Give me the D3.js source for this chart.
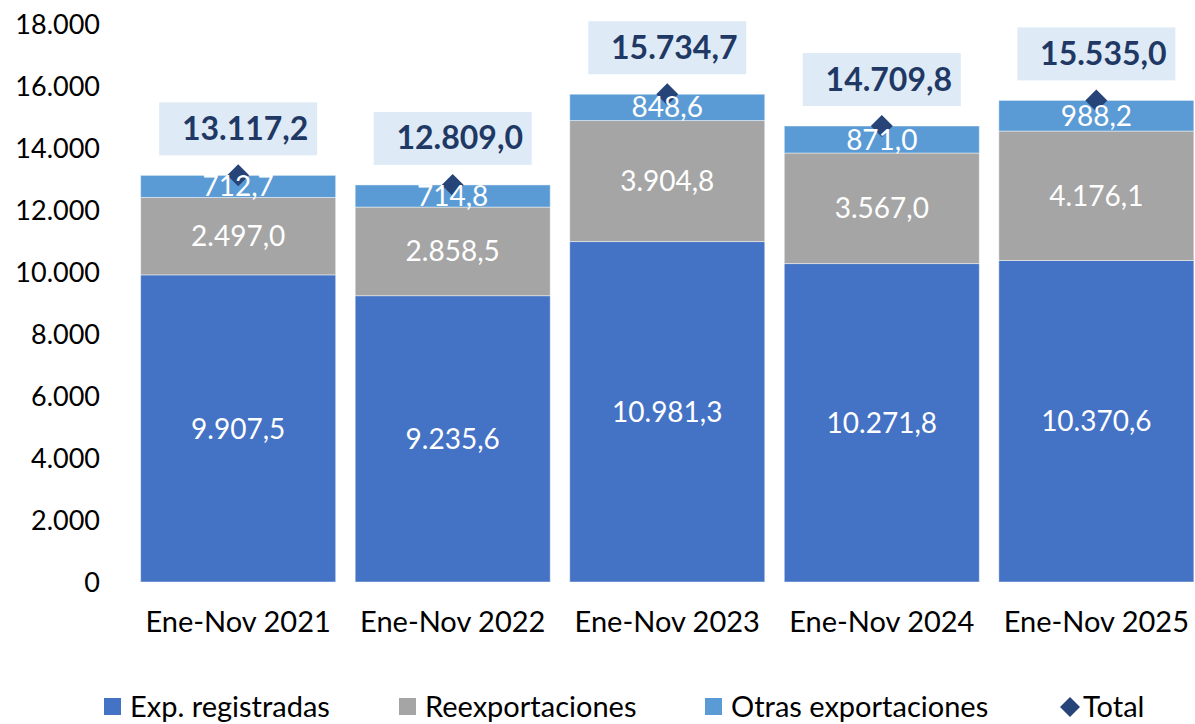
<!DOCTYPE html>
<html>
<head>
<meta charset="utf-8">
<script src="https://cdn.jsdelivr.net/npm/d3@7"></script>
<style>
  body { margin: 0; background: #fff; }
  text { font-family: Lato, "Open Sans", sans-serif; }
</style>
</head>
<body>
<div id="chart"></div>
<script>
// data
var categories = ["Ene-Nov 2021", "Ene-Nov 2022", "Ene-Nov 2023", "Ene-Nov 2024", "Ene-Nov 2025"];
var expRegistradas = [9907.5, 9235.6, 10981.3, 10271.8, 10370.6];
var reexportaciones = [2497.0, 2858.5, 3904.8, 3567.0, 4176.1];
var otrasExportaciones = [712.7, 714.8, 848.6, 871.0, 988.2];
var totals = [13117.2, 12809.0, 15734.7, 14709.8, 15535.0];
var seriesNames = ["Exp. registradas", "Reexportaciones", "Otras exportaciones", "Total"];
var yTicks = [0, 2000, 4000, 6000, 8000, 10000, 12000, 14000, 16000, 18000];

var W = 1195, H = 724;
var colors = ["#4472C4", "#A5A5A5", "#5B9BD5"];
var totalColor = "#264478";

var es = d3.formatLocale({ decimal: ",", thousands: ".", grouping: [3], currency: ["", ""] });
var fmt1 = es.format(",.1f"), fmt0 = es.format(",.0f");

var svg = d3.select("#chart").append("svg")
  .attr("width", W).attr("height", H);

var x = d3.scaleBand().domain(categories)
  .range([131, 1203.5]).paddingInner(0.091).paddingOuter(0.045);
var y = d3.scaleLinear().domain([0, 18000]).range([582, 24]);

// y axis labels (no line)
svg.append("g").selectAll("text").data(yTicks).enter().append("text")
  .attr("x", 100).attr("y", function(d) { return y(d); })
  .attr("dy", "0.36em")
  .attr("text-anchor", "end")
  .style("font-size", "27px").style("fill", "#000")
  .text(function(d) { return fmt0(d); });

// stacks
var rows = categories.map(function(c, i) {
  return { cat: c, a: expRegistradas[i], b: reexportaciones[i], c: otrasExportaciones[i] };
});
var stack = d3.stack().keys(["a", "b", "c"]);
var layers = stack(rows);

var g = svg.selectAll("g.layer").data(layers).enter().append("g")
  .attr("class", "layer")
  .style("fill", function(d, i) { return colors[i]; });

g.selectAll("rect").data(function(d) { return d; }).enter().append("rect")
  .attr("x", function(d) { return x(d.data.cat); })
  .attr("width", x.bandwidth())
  .attr("y", function(d) { return y(d[1]); })
  .attr("height", function(d) { return y(d[0]) - y(d[1]); })
  .style("stroke", "#ffffff").style("stroke-opacity", 0.45).style("stroke-width", 1);

// total diamonds
var dsize = 11;
svg.append("g").selectAll("path").data(totals).enter().append("path")
  .attr("transform", function(d, i) {
    return "translate(" + (x(categories[i]) + x.bandwidth() / 2) + "," + y(d) + ")";
  })
  .attr("d", "M0," + (-dsize) + "L" + dsize + ",0L0," + dsize + "L" + (-dsize) + ",0Z")
  .style("fill", totalColor);

// segment labels
layers.forEach(function(layer) {
  svg.append("g").selectAll("text").data(layer).enter().append("text")
    .attr("x", function(d) { return x(d.data.cat) + x.bandwidth() / 2; })
    .attr("y", function(d) { return (y(d[0]) + y(d[1])) / 2; })
    .attr("dy", "0.36em")
    .attr("text-anchor", "middle")
    .style("font-size", "28px").style("fill", "#fff")
    .text(function(d) { return fmt1(d[1] - d[0]); });
});

// total labels in boxes
var tl = svg.append("g").selectAll("g").data(totals).enter().append("g")
  .attr("transform", function(d, i) {
    return "translate(" + (x(categories[i]) + x.bandwidth() / 2) + "," + y(d) + ")";
  });
tl.append("rect")
  .attr("x", -79).attr("y", -73).attr("width", 158).attr("height", 53)
  .style("fill", "#DEEBF7");
tl.append("text")
  .attr("x", 7).attr("y", -47).attr("dy", "0.36em")
  .attr("text-anchor", "middle")
  .style("font-size", "32px").style("font-weight", "bold").style("fill", "#1F3864")
  .text(function(d) { return fmt1(d); });

// category labels
svg.append("g").selectAll("text").data(categories).enter().append("text")
  .attr("x", function(d) { return x(d) + x.bandwidth() / 2; })
  .attr("y", 622).attr("dy", "0.36em")
  .attr("text-anchor", "middle")
  .style("font-size", "29px").style("fill", "#000")
  .text(function(d) { return d; });

// legend
var legendX = [104, 399, 705, 1062];
var leg = svg.append("g").selectAll("g").data(seriesNames).enter().append("g")
  .attr("transform", function(d, i) { return "translate(" + legendX[i] + ",707)"; });
leg.each(function(d, i) {
  var s = d3.select(this);
  if (i < 3) {
    s.append("rect").attr("x", 0).attr("y", -9).attr("width", 17).attr("height", 17)
      .style("fill", colors[i]);
  } else {
    s.append("path").attr("d", "M8,-10L18,0L8,10L-2,0Z").style("fill", totalColor);
  }
  s.append("text").attr("x", i < 3 ? 26 : 21).attr("y", 0).attr("dy", "0.36em")
    .style("font-size", "29px").style("fill", "#000")
    .text(d);
});
</script>
</body>
</html>
